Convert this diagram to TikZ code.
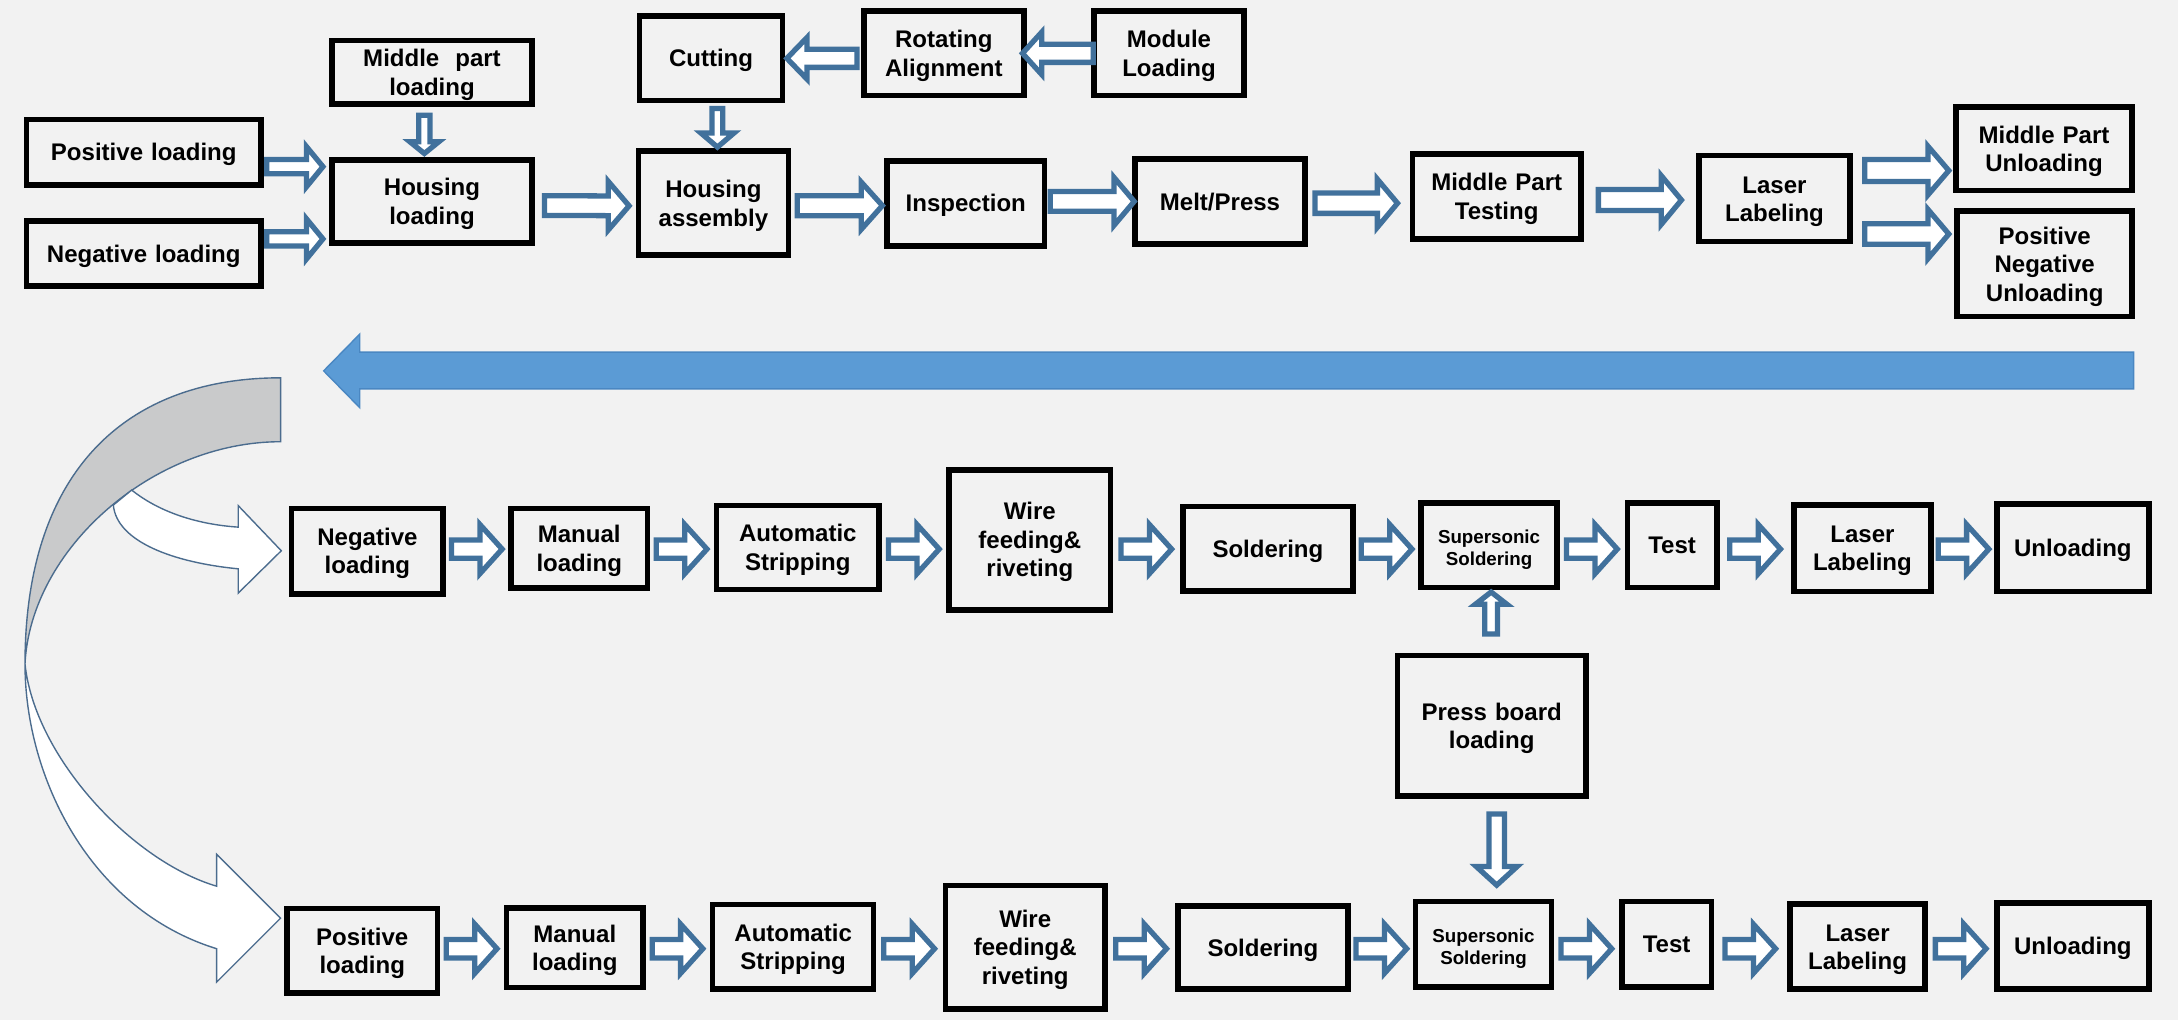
\documentclass[tikz,border=0pt]{standalone}
\usepackage{fontspec}
\setmainfont{Liberation Sans}
\usetikzlibrary{calc}
\definecolor{bgc}{HTML}{F2F2F2}
\definecolor{arwblue}{HTML}{41719C}
\definecolor{bigblue}{HTML}{5B9BD5}
\definecolor{bigedge}{HTML}{4A87C2}
\definecolor{crvedge}{HTML}{4B6C8E}
\definecolor{crvgray}{HTML}{C9CACB}
\begin{document}
\begin{tikzpicture}[
  x=1pt,y=-1pt,
  box/.style={draw,line width=4pt,align=center,inner sep=0pt,
    font=\fontsize{17.3}{20.5}\selectfont\bfseries,
    execute at begin node={\rule[-3.7pt]{0pt}{19.8pt}}},
  small/.style={font=\fontsize{13.5}{15.5}\selectfont\bfseries,
    execute at begin node={\rule[-2.9pt]{0pt}{15.4pt}}},
  sz/.style 2 args={minimum width=#1pt,minimum height=#2pt,text width=#1pt},
  arw/.style={draw=arwblue,fill=white,line width=3.8pt},
  blk/.style n args={3}{to path={
    let \p1=($(\tikztostart)!2pt!(\tikztotarget)$),
        \p2=($(\tikztotarget)!2.5pt!(\tikztostart)$),
        \p3=($(\p2)!#3!(\p1)$) in
    ($(\p1)!#1!90:(\p2)$) -- ($(\p3)!#1!-90:(\p1)$) -- ($(\p3)!#2!-90:(\p1)$)
    -- (\p2) -- ($(\p3)!#2!90:(\p1)$) -- ($(\p3)!#1!90:(\p1)$)
    -- ($(\p1)!#1!-90:(\p2)$) -- cycle}},
  crv/.style={draw=crvedge,line width=1pt}
  ]
  \fill[bgc] (0,0) rectangle (1568,734);

  \node (pos1) [box,sz={169}{47}] at (103.5,109.5) {Positive loading};
  \node (neg1) [box,sz={169}{47}] at (103.5,182.5) {Negative loading};
  \node (mid)  [box,sz={144}{46}] at (311,52)      {Middle\ \ part\\loading};
  \node (hsl)  [box,sz={144}{60}] at (311,145)     {Housing\\loading};
  \node (cut)  [box,sz={103}{61}] at (511.9,42)    {Cutting};
  \node (rot)  [box,sz={115}{61}] at (679.5,38.4)  {Rotating\\Alignment};
  \node (mod)  [box,sz={108}{61}] at (841.6,38.4)  {Module\\Loading};
  \node (hsa)  [box,sz={108}{75}] at (513.6,146.2) {Housing\\assembly};
  \node (ins)  [box,sz={113.5}{61}] at (695.3,146.4) {Inspection};
  \node (mel)  [box,sz={122.5}{61.3}] at (878.3,145) {Melt/Press};
  \node (mpt)  [box,sz={121}{61}] at (1077.5,141.5) {Middle Part\\Testing};
  \node (lsr)  [box,sz={109}{62}] at (1277.5,143)  {Laser\\Labeling};
  \node (mpu)  [box,sz={127}{60}] at (1471.5,107)  {Middle Part\\Unloading};
  \node (pnu)  [box,sz={126}{76}] at (1472,190)    {Positive\\Negative\\Unloading};

  \node (negb) [box,sz={109}{61.5}] at (264.5,396.7) {Negative\\loading};
  \node (man1) [box,sz={98}{57.5}]  at (417,394.7)   {Manual\\loading};
  \node (str1) [box,sz={117}{60.3}] at (574.4,394.2) {Automatic\\Stripping};
  \node (wir1) [box,sz={116}{100.7}] at (741.4,388.6) {Wire\\feeding\&\\riveting};
  \node (sol1) [box,sz={122.5}{61}] at (912.8,395)   {Soldering};
  \node (sup1) [box,small,sz={98}{61}] at (1072,392.5) {Supersonic\\Soldering};
  \node (tst1) [box,sz={64.4}{61}]  at (1203.8,392.5) {Test};
  \node (lab1) [box,sz={98.4}{62.2}] at (1340.8,394.6) {Laser\\Labeling};
  \node (unl1) [box,sz={109.4}{63}] at (1492.3,394.2) {Unloading};
  \node (prs)  [box,sz={135.7}{101}] at (1073.9,522.5) {Press board\\loading};

  \node (posb) [box,sz={108.4}{61}] at (260.8,684.5) {Positive\\loading};
  \node (man2) [box,sz={98.4}{57.5}] at (413.8,682.3) {Manual\\loading};
  \node (str2) [box,sz={116}{61}]   at (571,681.6)   {Automatic\\Stripping};
  \node (wir2) [box,sz={115}{89}]   at (738.1,681.9) {Wire\\feeding\&\\riveting};
  \node (sol2) [box,sz={122.4}{60}] at (909.2,682.1) {Soldering};
  \node (sup2) [box,small,sz={98}{61.5}] at (1068,679.8) {Supersonic\\Soldering};
  \node (tst2) [box,sz={64.4}{61.5}] at (1199.8,679.8) {Test};
  \node (lab2) [box,sz={97.4}{61}]  at (1337.3,681.5) {Laser\\Labeling};
  \node (unl2) [box,sz={109.4}{62}] at (1492.3,681)   {Unloading};

  \draw[arw] ([shift={(0,10.5)}]pos1.east) to[blk={5.1pt}{14.5pt}{11.9pt}] ([shift={(-2,-25)}]hsl.west);
  \draw[arw] ([shift={(0,-10.5)}]neg1.east) to[blk={5.1pt}{14.5pt}{11.9pt}] ([shift={(-2,27)}]hsl.west);
  \draw[arw] ([shift={(-5.5,4)}]mid.south) to[blk={4.1pt}{10.5pt}{8.5pt}] ([shift={(-5.5,0)}]hsl.north);
  \draw[arw] ([shift={(5,3)}]hsl.east) to[blk={7.1pt}{17.5pt}{15pt}] ([shift={(-2.2,2)}]hsa.west);
  \draw[arw] ([shift={(4.6,1.6)}]cut.south) to[blk={3.85pt}{12pt}{10.2pt}] ([shift={(2.9,1.7)}]hsa.north);
  \draw[arw] ([shift={(-1,3.6)}]rot.west) to[blk={6.5pt}{15pt}{14.5pt}] ([shift={(-1.4,0)}]cut.east);
  \draw[arw] ([shift={(3.4,0)}]mod.west) to[blk={6.5pt}{15.3pt}{13.9pt}] ([shift={(-5.4,0)}]rot.east);
  \draw[arw] ([shift={(2.4,2)}]hsa.east) to[blk={7.2pt}{17pt}{15.2pt}] ([shift={(1.2,1.6)}]ins.west);
  \draw[arw] ([shift={(0,-1.4)}]ins.east) to[blk={7.1pt}{17.2pt}{14.5pt}] ([shift={(4,0)}]mel.west);
  \draw[arw] ([shift={(3.1,1.3)}]mel.east) to[blk={7.3pt}{17.3pt}{14.5pt}] ([shift={(-6.4,4.8)}]mpt.west);
  \draw[arw] ([shift={(8.7,2.5)}]mpt.east) to[blk={7.6pt}{17.5pt}{14.5pt}] ([shift={(-8,1)}]lsr.west);
  \draw[arw] ([shift={(6.5,-20.2)}]lsr.east) to[blk={7.9pt}{17.5pt}{15pt}] ([shift={(-0.5,15.8)}]mpu.west);
  \draw[arw] ([shift={(6.5,25.5)}]lsr.east) to[blk={7.4pt}{17.7pt}{15pt}] ([shift={(-1.5,-21.5)}]pnu.west);

  \filldraw[fill=bigblue,draw=bigedge,line width=1pt] (1536,253.5) -- (259,253.5) -- (259,240.5)
    -- (233,267) -- (259,293.5) -- (259,280) -- (1536,280) -- cycle;

  \filldraw[crv,fill=crvgray] (202,272) .. controls (90,272) and (18,340) .. (18,478)
    .. controls (22,395) and (110,318) .. (202,318) -- cycle;
  \filldraw[crv,fill=white] (94.8,352.8) .. controls (110,365) and (135,377) .. (171.5,379.5)
    -- (171.5,364) -- (202.5,396.5) -- (171.5,427) -- (171.5,409.5)
    .. controls (125,405) and (84,390) .. (81.6,363.6) -- cycle;
  \filldraw[crv,fill=white] (18,478) .. controls (18,560) and (65,655) .. (156,683)
    -- (156,707) -- (202,661) -- (156,615) -- (156,638)
    .. controls (95,620) and (25,545) .. (18,478) -- cycle;

  \coordinate (rowa) at (0,395.3);
  \coordinate (rowb) at (0,683);
  \foreach \a/\b in {negb/man1,man1/str1,str1/wir1,wir1/sol1,sol1/sup1,sup1/tst1,tst1/lab1,lab1/unl1}
    \draw[arw] ($(\a.east |- rowa)!.5!(\b.west |- rowa)-(20.5,0)$) to[blk={6.6pt}{17.7pt}{16pt}]
      ($(\a.east |- rowa)!.5!(\b.west |- rowa)+(20.5,0)$);
  \foreach \a/\b in {posb/man2,man2/str2,str2/wir2,wir2/sol2,sol2/sup2,sup2/tst2,tst2/lab2,lab2/unl2}
    \draw[arw] ($(\a.east |- rowb)!.5!(\b.west |- rowb)-(20.5,0)$) to[blk={6.6pt}{17.7pt}{16pt}]
      ($(\a.east |- rowb)!.5!(\b.west |- rowb)+(20.5,0)$);

  \draw[arw] ([shift={(-0.4,-11.5)}]prs.north) to[blk={4.6pt}{11.3pt}{8.8pt}] ([shift={(1.5,-1.3)}]sup1.south);
  \draw[arw] ([shift={(3.6,9)}]prs.south) to[blk={5.6pt}{14.8pt}{13.5pt}] ([shift={(9.5,-7.3)}]sup2.north);
\end{tikzpicture}
\end{document}
